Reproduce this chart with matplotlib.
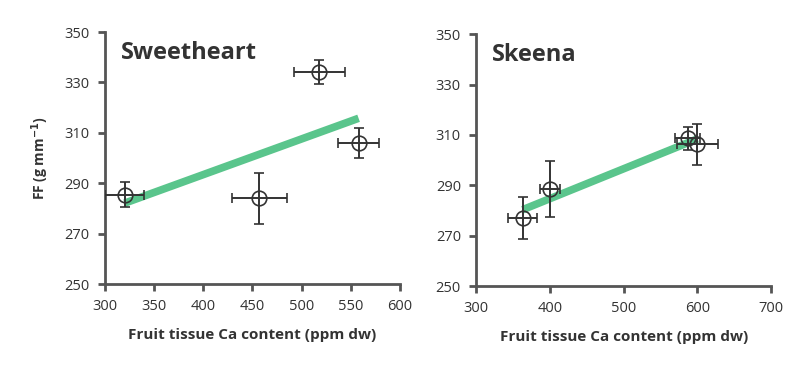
import numpy as np
import matplotlib
matplotlib.use('Agg')
import matplotlib.pyplot as plt

plt.rcParams['font.family'] = ['Open Sans', 'DejaVu Sans']

# Sweetheart data
sw_ca = [320, 457, 518, 558]
sw_ca_err = [20, 28, 26, 21]
sw_ff = [285.5, 284, 334, 306]
sw_ff_err = [5, 10, 4.8, 6]

# Skeena data
sk_ca = [363, 400, 587, 600]
sk_ca_err = [20, 14, 17, 28]
sk_ff = [277, 288.5, 308.6, 306.2]
sk_ff_err = [8.5, 11, 4.7, 8]

green = '#5ac58c'
dark = '#333333'
spine_col = '#555555'


def panel(ax, xs, xerr, ys, yerr, title, xticks):
    slope, icpt = np.polyfit(xs, ys, 1)
    fx = np.array([min(xs), max(xs)])
    ax.plot(fx, slope * fx + icpt, color=green, lw=5.5, solid_capstyle='butt', zorder=1)
    ax.errorbar(xs, ys, xerr=xerr, yerr=yerr, fmt='o', ms=10.5, mfc='none',
                mec=dark, mew=1.2, ecolor=dark, elinewidth=1.4, capsize=3.5,
                capthick=1.4, zorder=3)
    ax.set_xlim(xticks[0], xticks[-1])
    ax.set_ylim(250, 350)
    ax.set_xticks(xticks)
    ax.set_yticks(np.arange(250, 351, 20))
    for s in ['top', 'right']:
        ax.spines[s].set_visible(False)
    for s in ['left', 'bottom']:
        ax.spines[s].set_color(spine_col)
        ax.spines[s].set_linewidth(2)
    ax.tick_params(direction='out', length=5, width=2, color=spine_col,
                   labelsize=10.5, labelcolor=dark, pad=6)
    ax.text(0.055, 0.965, title, transform=ax.transAxes, ha='left', va='top',
            fontsize=17, fontweight='bold', color=dark)
    ax.set_xlabel('Fruit tissue Ca content (ppm dw)', fontsize=11, fontweight='bold',
                  color=dark, labelpad=10)


fig = plt.figure(figsize=(7.95, 3.71), dpi=100)
ax1 = fig.add_axes([0.132, 0.2345, 0.371, 0.679])
ax2 = fig.add_axes([0.599, 0.229, 0.371, 0.679])

panel(ax1, sw_ca, sw_ca_err, sw_ff, sw_ff_err, 'Sweetheart', np.arange(300, 601, 50))
panel(ax2, sk_ca, sk_ca_err, sk_ff, sk_ff_err, 'Skeena', np.arange(300, 701, 100))

ax1.set_ylabel('FF (g mm$^{\\mathbf{-1}}$)', fontsize=10, fontweight='bold', color=dark, labelpad=10)

fig.savefig('out.png', dpi=100)
